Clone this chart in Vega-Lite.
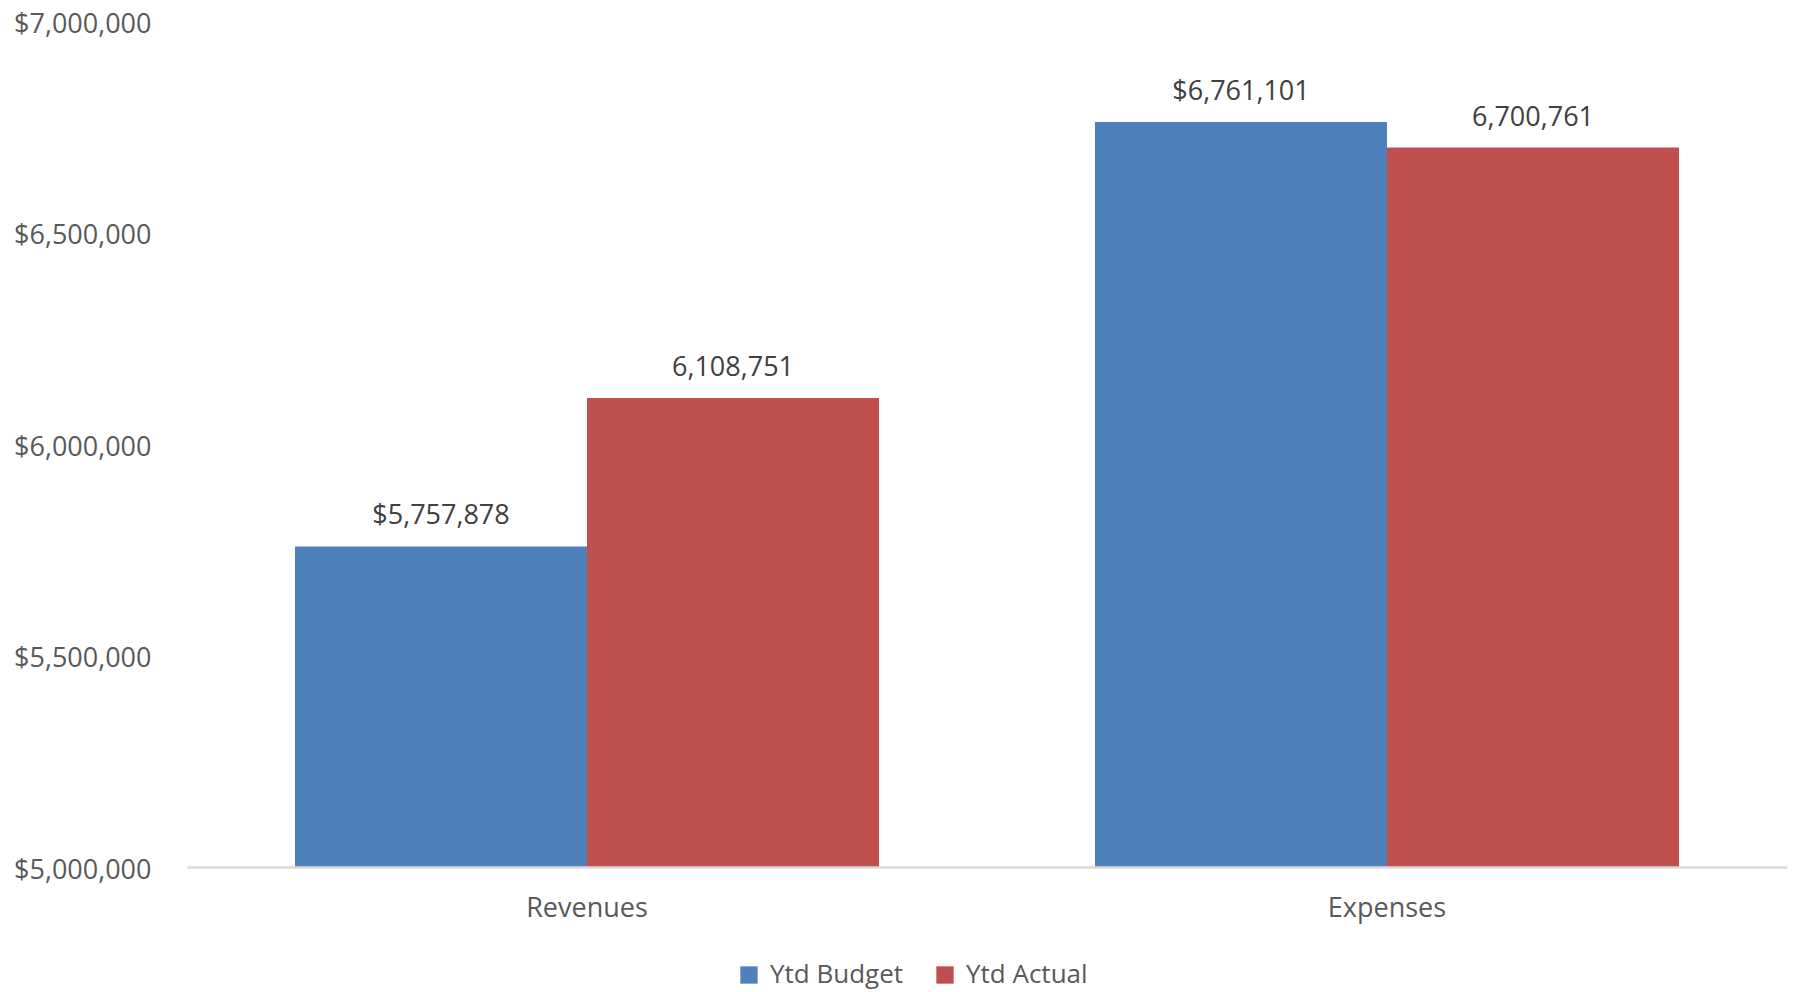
{
  "$schema": "https://vega.github.io/schema/vega-lite/v6.json",
  "width": 1600,
  "height": 846,
  "autosize": {"type": "none"},
  "padding": {"left": 187, "top": 21, "right": 6, "bottom": 125},
  "background": "white",
  "config": {
    "view": {"stroke": null},
    "font": "Open Sans"
  },
  "data": {
    "values": [
      {"category": "Revenues", "series": "Ytd Budget", "value": 5757878, "label": "$5,757,878"},
      {"category": "Revenues", "series": "Ytd Actual", "value": 6108751, "label": "6,108,751"},
      {"category": "Expenses", "series": "Ytd Budget", "value": 6761101, "label": "$6,761,101"},
      {"category": "Expenses", "series": "Ytd Actual", "value": 6700761, "label": "6,700,761"}
    ]
  },
  "encoding": {
    "x": {
      "field": "category", "type": "nominal", "sort": ["Revenues", "Expenses"],
      "scale": {"paddingInner": 0.27, "paddingOuter": 0.135},
      "axis": {
        "title": null, "labelAngle": 0, "ticks": false, "domainColor": "#D9D9D9", "domainWidth": 2.5,
        "labelFontSize": 27, "labelColor": "#595959", "labelPadding": 28, "labelFont": "Open Sans", "zindex": 1
      }
    },
    "xOffset": {"field": "series", "type": "nominal", "sort": ["Ytd Budget", "Ytd Actual"], "scale": {"paddingInner": 0, "paddingOuter": 0}},
    "y": {
      "field": "value", "type": "quantitative",
      "scale": {"domain": [5000000, 7000000], "zero": false, "nice": false},
      "axis": {
        "title": null, "grid": false, "domain": false, "ticks": false, "values": [5000000, 5500000, 6000000, 6500000, 7000000],
        "format": "$,.0f", "labelFontSize": 27, "labelColor": "#595959", "labelPadding": 36, "labelFont": "Open Sans", "labelOffset": 3
      }
    }
  },
  "layer": [
    {
      "mark": {"type": "bar", "clip": true},
      "encoding": {
        "color": {
          "field": "series", "type": "nominal", "sort": ["Ytd Budget", "Ytd Actual"],
          "scale": {"domain": ["Ytd Budget", "Ytd Actual"], "range": ["#4F81BD", "#C0504D"]},
          "legend": {
            "title": null, "orient": "none", "legendX": 549, "legendY": 941, "direction": "horizontal", "symbolType": "square",
            "symbolSize": 300, "symbolStrokeWidth": 0, "labelFontSize": 26, "labelColor": "#595959",
            "labelFont": "Open Sans", "columnPadding": 28, "labelOffset": 8
          }
        }
      }
    },
    {
      "mark": {"type": "text", "baseline": "bottom", "dy": -16, "fontSize": 27, "color": "#404040", "font": "Open Sans"},
      "encoding": {"text": {"field": "label"}}
    }
  ]
}
